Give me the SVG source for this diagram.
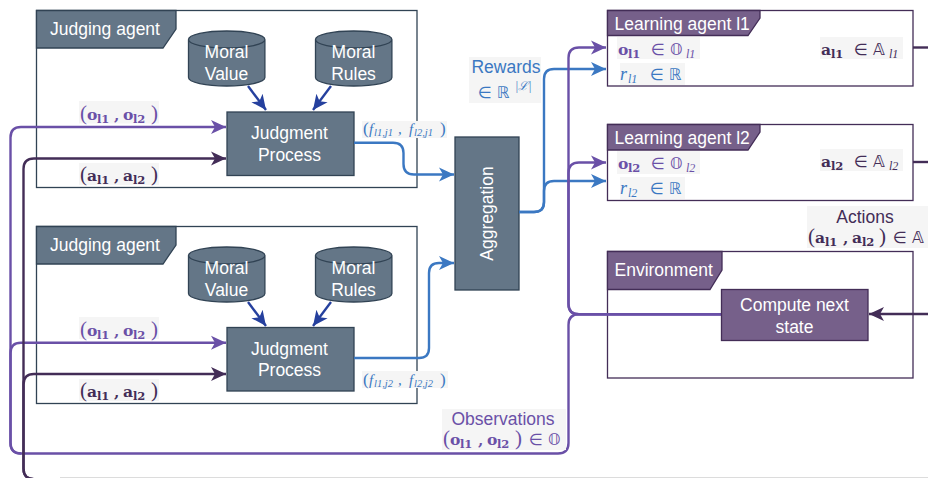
<svg xmlns="http://www.w3.org/2000/svg" width="928" height="478" viewBox="0 0 928 478">
<style>
text{font-family:"Liberation Sans",Arial,sans-serif;font-size:17.5px}
.w{fill:#fff}.mid{text-anchor:middle}
.fr{fill:#fff;stroke:#314354;stroke-width:1.3}
.frp{fill:#fff;stroke:#432d57;stroke-width:1.3}
.sl{fill:#647687;stroke:#314354;stroke-width:1.3}
.pu{fill:#76608a;stroke:#432d57;stroke-width:1.3}
.c{fill:none;stroke-width:2.4}
.ob{stroke:#6a50a7}.da{stroke:#432d57}.bl{stroke:#3b78c2}.db{stroke:#25409e}
.tob{fill:#6a50a7}.tda{fill:#432d57}.tbl{fill:#3b78c2}
.bg{fill:#f5f5f5}
.m{font-family:"DejaVu Serif",serif;font-weight:bold;font-size:15.5px}
.s{font-family:"DejaVu Serif",serif;font-weight:bold;font-size:11.5px}
.p{font-family:"Liberation Serif",serif;font-size:21px}
.r{font-family:"DejaVu Sans",sans-serif;font-size:16px}
.i{font-family:"Liberation Serif",serif;font-style:italic;font-size:18px}
.si{font-family:"Liberation Serif",serif;font-style:italic;font-size:12px}
.so{font-family:"DejaVu Serif",serif;font-size:11.5px}
.f{font-family:"Liberation Serif",serif;font-style:italic;font-size:15px}
.fs{font-family:"Liberation Serif",serif;font-style:italic;font-size:10.5px}
.fp{font-family:"Liberation Serif",serif;font-size:17px}
</style>
<defs>
<marker id="aob" markerUnits="userSpaceOnUse" markerWidth="17" markerHeight="16" refX="15" refY="8" orient="auto"><path d="M0 1L15 8L0 15L4 8z" fill="#6a50a7"/></marker>
<marker id="ada" markerUnits="userSpaceOnUse" markerWidth="17" markerHeight="16" refX="15" refY="8" orient="auto"><path d="M0 1L15 8L0 15L4 8z" fill="#432d57"/></marker>
<marker id="abl" markerUnits="userSpaceOnUse" markerWidth="17" markerHeight="16" refX="15" refY="8" orient="auto"><path d="M0 1L15 8L0 15L4 8z" fill="#3b78c2"/></marker>
<marker id="adb" markerUnits="userSpaceOnUse" markerWidth="17" markerHeight="16" refX="15" refY="8" orient="auto"><path d="M0 1L15 8L0 15L4 8z" fill="#25409e"/></marker>
<path id="cyl" d="M-38.2-46.5V-8.5C-38.2-3.7-21-0-0 0S38.2-3.7 38.2-8.5V-46.5C38.2-51.3 21-55-0-55S-38.2-51.3-38.2-46.5C-38.2-41.7-21-38 0-38S38.2-41.7 38.2-46.5"/>
</defs>

<g id="judging-agent-1">
<rect class="fr" x="36.5" y="10.5" width="380.5" height="177"/>
<path class="sl" d="M36.5 10.5H176V29L163 48H36.5z"/>
<text class="w" x="50" y="34.5">Judging agent</text>
</g>
<g id="moral-value-1"><use href="#cyl" class="sl" x="226.7" y="86"/><text class="w mid" x="226.5" y="58">Moral</text><text class="w mid" x="226.5" y="80">Value</text></g>
<g id="moral-rules-1"><use href="#cyl" class="sl" x="353.7" y="86"/><text class="w mid" x="353.5" y="58">Moral</text><text class="w mid" x="353.5" y="80">Rules</text></g>
<g id="judgment-process-1"><rect class="sl" x="227" y="112" width="127" height="63.5"/><text class="w mid" x="289.5" y="139">Judgment</text><text class="w mid" x="289.5" y="161">Process</text></g>

<g id="judging-agent-2">
<rect class="fr" x="36.5" y="226.5" width="380.5" height="177"/>
<path class="sl" d="M36.5 226.5H176V245L163 264H36.5z"/>
<text class="w" x="50" y="250.5">Judging agent</text>
</g>
<g id="moral-value-2"><use href="#cyl" class="sl" x="226.7" y="302"/><text class="w mid" x="226.5" y="274">Moral</text><text class="w mid" x="226.5" y="296">Value</text></g>
<g id="moral-rules-2"><use href="#cyl" class="sl" x="353.7" y="302"/><text class="w mid" x="353.5" y="274">Moral</text><text class="w mid" x="353.5" y="296">Rules</text></g>
<g id="judgment-process-2"><rect class="sl" x="227" y="327.5" width="127" height="63.5"/><text class="w mid" x="289.5" y="355">Judgment</text><text class="w mid" x="289.5" y="376">Process</text></g>

<g id="aggregation"><rect class="sl" x="455" y="137" width="64" height="153"/><text class="w mid" transform="translate(493 213.5) rotate(-90)">Aggregation</text></g>

<g id="learning-agent-1">
<rect class="frp" x="607.5" y="10.5" width="305.5" height="75.5"/>
<path class="pu" d="M607.5 10.5H760V18L748 35.5H607.5z"/>
<text class="w" x="614.5" y="29.5">Learning agent l1</text>
</g>
<g id="learning-agent-2">
<rect class="frp" x="607.5" y="124.5" width="305.5" height="76"/>
<path class="pu" d="M607.5 124.5H760V132L748 150H607.5z"/>
<text class="w" x="614.5" y="143.5">Learning agent l2</text>
</g>
<g id="environment">
<rect class="frp" x="607.5" y="251.5" width="305.5" height="126.5"/>
<path class="pu" d="M607.5 251.5H722V270L710 289.5H607.5z"/>
<text class="w" x="614.5" y="276">Environment</text>
</g>

<g id="connectors">
<path class="c db" marker-end="url(#adb)" d="M248 86L266 110"/>
<path class="c db" marker-end="url(#adb)" d="M331 86L313 110"/>
<path class="c db" marker-end="url(#adb)" d="M248 302L266 326"/>
<path class="c db" marker-end="url(#adb)" d="M331 302L313 326"/>
<path class="c bl" marker-end="url(#abl)" d="M354 142.700H393Q403.500 142.700 403.500 153V164Q403.500 174.500 414 174.500H454"/>
<path class="c bl" marker-end="url(#abl)" d="M354 358H419Q429 358 429 348V273Q429 263 439 263H454"/>
<path class="c bl" marker-end="url(#abl)" d="M519 212H534Q544 212 544 202V79Q544 69 554 69H606"/>
<path class="c bl" marker-end="url(#abl)" d="M519 212H534Q544 212 544 202V191Q544 181 554 181H606"/>
<path class="c ob" marker-end="url(#aob)" d="M722 314.300H579Q568.500 314.300 568.500 304V58Q568.500 47.500 579 47.500H606"/>
<path class="c ob" marker-end="url(#aob)" d="M722 314.300H579Q568.500 314.300 568.500 304V173Q568.500 162.500 579 162.500H606"/>
<path class="c ob" marker-end="url(#aob)" d="M722 314.300H579Q568.500 314.300 568.500 325V443Q568.500 453.500 558 453.500H21Q10.500 453.500 10.500 443V137.500Q10.500 127 21 127H226"/>
<path class="c ob" marker-end="url(#aob)" d="M21 453.500Q10.500 453.500 10.500 443V353Q10.500 342.700 21 342.700H226"/>
<path class="c da" marker-end="url(#ada)" d="M60 479.100H34Q23.500 479.100 23.500 468.500V169Q23.500 158.500 34 158.500H226"/>
<path class="c da" marker-end="url(#ada)" d="M34 479.100Q23.500 479.100 23.500 468.500V384.500Q23.500 374 34 374H226"/>
<path d="M60 477.500H928" stroke="#dcdcdc" stroke-width="1" fill="none"/>
<path class="c da" d="M913 47.500H928"/>
<path class="c da" d="M913 162H928"/>
<path class="c da" marker-end="url(#ada)" d="M928 314H869"/>
</g>

<g id="compute-next-state"><rect class="pu" x="721.500" y="289.500" width="146.500" height="51"/><text class="w mid" x="794.500" y="310.500">Compute next</text><text class="w mid" x="794.500" y="332.500">state</text></g>

<g id="labels">
<rect class="bg" x="79" y="101" width="80" height="22.500"/>
<text class="tob" y="120"><tspan class="p" x="80">(</tspan><tspan class="m" x="87">o</tspan><tspan class="s" x="97" dy="3">l1</tspan><tspan class="m" x="114" dy="-3">,</tspan><tspan class="m" x="123">o</tspan><tspan class="s" x="133" dy="3">l2</tspan><tspan class="p" x="151" dy="-3">)</tspan></text>
<rect class="bg" x="79" y="163" width="80" height="22"/>
<text class="tda" y="181"><tspan class="p" x="80">(</tspan><tspan class="m" x="87">a</tspan><tspan class="s" x="97" dy="3">l1</tspan><tspan class="m" x="114" dy="-3">,</tspan><tspan class="m" x="123">a</tspan><tspan class="s" x="133" dy="3">l2</tspan><tspan class="p" x="151" dy="-3">)</tspan></text>
<rect class="bg" x="79" y="317" width="80" height="22"/>
<text class="tob" y="336"><tspan class="p" x="80">(</tspan><tspan class="m" x="87">o</tspan><tspan class="s" x="97" dy="3">l1</tspan><tspan class="m" x="114" dy="-3">,</tspan><tspan class="m" x="123">o</tspan><tspan class="s" x="133" dy="3">l2</tspan><tspan class="p" x="151" dy="-3">)</tspan></text>
<rect class="bg" x="79" y="379" width="80" height="22"/>
<text class="tda" y="397"><tspan class="p" x="80">(</tspan><tspan class="m" x="87">a</tspan><tspan class="s" x="97" dy="3">l1</tspan><tspan class="m" x="114" dy="-3">,</tspan><tspan class="m" x="123">a</tspan><tspan class="s" x="133" dy="3">l2</tspan><tspan class="p" x="151" dy="-3">)</tspan></text>

<rect class="bg" x="362" y="121" width="85" height="17"/>
<text class="tbl" y="134"><tspan class="fp" x="363">(</tspan><tspan class="f" x="369">f</tspan><tspan class="fs" x="374" dy="2">l1,j1</tspan><tspan class="f" x="398" dy="-2">,</tspan><tspan class="f" x="409">f</tspan><tspan class="fs" x="414" dy="2">l2,j1</tspan><tspan class="fp" x="440" dy="-2">)</tspan></text>
<rect class="bg" x="362" y="371" width="86" height="17"/>
<text class="tbl" y="385"><tspan class="fp" x="363">(</tspan><tspan class="f" x="369">f</tspan><tspan class="fs" x="374" dy="2">l1,j2</tspan><tspan class="f" x="398" dy="-2">,</tspan><tspan class="f" x="409">f</tspan><tspan class="fs" x="414" dy="2">l2,j2</tspan><tspan class="fp" x="440" dy="-2">)</tspan></text>

<rect class="bg" x="469" y="57" width="72" height="46"/>
<text class="tbl mid" x="506" y="73">Rewards</text>
<text class="tbl" y="98"><tspan class="r" x="478">∈ ℝ</tspan><tspan class="si" x="515" y="90">|ℒ|</tspan></text>

<rect class="bg" x="617" y="37" width="83" height="22"/>
<text class="tob" y="55"><tspan class="m" x="618">o</tspan><tspan class="s" x="628" dy="3">l1</tspan><tspan class="r" x="651" dy="-3">∈ 𝕆</tspan><tspan class="si" x="686" dy="3">l1</tspan></text>
<rect class="bg" x="620" y="63" width="65" height="22"/>
<text class="tbl" y="80"><tspan class="i" x="620">r</tspan><tspan class="si" x="628" dy="3">l1</tspan><tspan class="r" x="650" dy="-3">∈ ℝ</tspan></text>
<rect class="bg" x="820" y="37" width="83" height="22"/>
<text class="tda" y="55"><tspan class="m" x="821">a</tspan><tspan class="s" x="831" dy="3">l1</tspan><tspan class="r" x="854" dy="-3">∈ 𝔸</tspan><tspan class="si" x="889" dy="3">l1</tspan></text>

<rect class="bg" x="617" y="151" width="83" height="23"/>
<text class="tob" y="169"><tspan class="m" x="618">o</tspan><tspan class="s" x="628" dy="3">l2</tspan><tspan class="r" x="651" dy="-3">∈ 𝕆</tspan><tspan class="si" x="686" dy="3">l2</tspan></text>
<rect class="bg" x="620" y="177" width="65" height="22"/>
<text class="tbl" y="194"><tspan class="i" x="620">r</tspan><tspan class="si" x="628" dy="3">l2</tspan><tspan class="r" x="650" dy="-3">∈ ℝ</tspan></text>
<rect class="bg" x="820" y="149" width="83" height="22"/>
<text class="tda" y="167"><tspan class="m" x="821">a</tspan><tspan class="s" x="831" dy="3">l2</tspan><tspan class="r" x="854" dy="-3">∈ 𝔸</tspan><tspan class="si" x="889" dy="3">l2</tspan></text>

<rect class="bg" x="807" y="206" width="121" height="42"/>
<text class="tda mid" x="865" y="223">Actions</text>
<text class="tda" y="243"><tspan class="p" x="808">(</tspan><tspan class="m" x="815">a</tspan><tspan class="s" x="825" dy="3">l1</tspan><tspan class="m" x="843" dy="-3">,</tspan><tspan class="m" x="852">a</tspan><tspan class="s" x="862" dy="3">l2</tspan><tspan class="p" x="879" dy="-3">)</tspan><tspan class="r" x="893">∈ 𝔸</tspan></text>

<rect class="bg" x="442" y="409" width="124" height="41"/>
<text class="tob mid" x="503" y="425">Observations</text>
<text class="tob" y="445"><tspan class="p" x="443">(</tspan><tspan class="m" x="450">o</tspan><tspan class="s" x="460" dy="3">l1</tspan><tspan class="m" x="478" dy="-3">,</tspan><tspan class="m" x="487">o</tspan><tspan class="s" x="497" dy="3">l2</tspan><tspan class="p" x="515" dy="-3">)</tspan><tspan class="r" x="529">∈ 𝕆</tspan></text>
</g>
</svg>
